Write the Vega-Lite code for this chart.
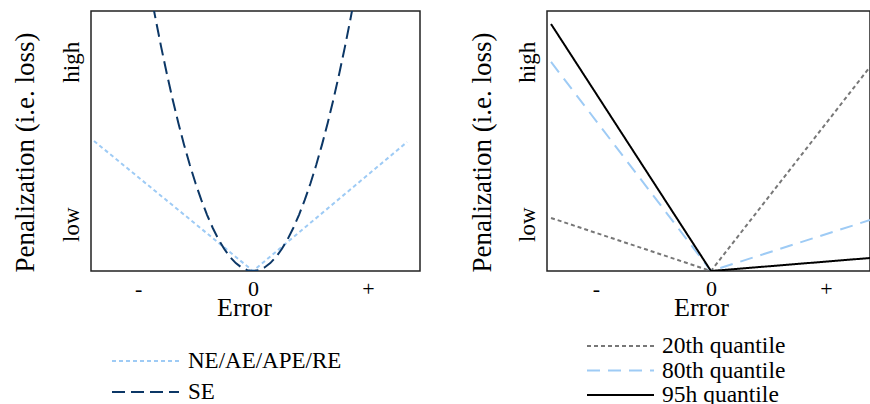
{
  "$schema": "https://vega.github.io/schema/vega-lite/v6.json",
  "padding": {"left": 10, "top": 10, "right": 0, "bottom": 0},
  "background": "white",
  "spacing": 46,
  "config": {
    "view": {"stroke": "#222222", "strokeWidth": 1.5},
    "font": "Liberation Serif",
    "axis": {"grid": false, "domain": false, "ticks": false, "tickSize": 0, "labelFont": "Liberation Serif", "titleFont": "Liberation Serif", "labelColor": "#000000", "titleColor": "#000000", "titleFontWeight": "normal", "labelFlush": false, "labelOverlap": false},
    "legend": {"labelFont": "Liberation Serif", "labelColor": "#000000", "padding": 0, "symbolType": "stroke", "symbolStrokeWidth": 2, "symbolSize": 4489, "clipHeight": 24, "title": null}
  },
  "datasets": {
    "left": [
      {"series": "NE/AE/APE/RE", "error": -1.383, "loss": 5.0},
      {"series": "NE/AE/APE/RE", "error": 0, "loss": 0},
      {"series": "NE/AE/APE/RE", "error": 1.339, "loss": 4.96},
      {"series": "SE", "error": -0.9, "loss": 10.935},
      {"series": "SE", "error": -0.85, "loss": 9.754},
      {"series": "SE", "error": -0.8, "loss": 8.64},
      {"series": "SE", "error": -0.75, "loss": 7.594},
      {"series": "SE", "error": -0.7, "loss": 6.615},
      {"series": "SE", "error": -0.65, "loss": 5.704},
      {"series": "SE", "error": -0.6, "loss": 4.86},
      {"series": "SE", "error": -0.55, "loss": 4.084},
      {"series": "SE", "error": -0.5, "loss": 3.375},
      {"series": "SE", "error": -0.45, "loss": 2.734},
      {"series": "SE", "error": -0.4, "loss": 2.16},
      {"series": "SE", "error": -0.35, "loss": 1.654},
      {"series": "SE", "error": -0.3, "loss": 1.215},
      {"series": "SE", "error": -0.25, "loss": 0.844},
      {"series": "SE", "error": -0.2, "loss": 0.54},
      {"series": "SE", "error": -0.15, "loss": 0.304},
      {"series": "SE", "error": -0.1, "loss": 0.135},
      {"series": "SE", "error": -0.05, "loss": 0.034},
      {"series": "SE", "error": 0, "loss": 0},
      {"series": "SE", "error": 0.05, "loss": 0.034},
      {"series": "SE", "error": 0.1, "loss": 0.135},
      {"series": "SE", "error": 0.15, "loss": 0.304},
      {"series": "SE", "error": 0.2, "loss": 0.54},
      {"series": "SE", "error": 0.25, "loss": 0.844},
      {"series": "SE", "error": 0.3, "loss": 1.215},
      {"series": "SE", "error": 0.35, "loss": 1.654},
      {"series": "SE", "error": 0.4, "loss": 2.16},
      {"series": "SE", "error": 0.45, "loss": 2.734},
      {"series": "SE", "error": 0.5, "loss": 3.375},
      {"series": "SE", "error": 0.55, "loss": 4.084},
      {"series": "SE", "error": 0.6, "loss": 4.86},
      {"series": "SE", "error": 0.65, "loss": 5.704},
      {"series": "SE", "error": 0.7, "loss": 6.615},
      {"series": "SE", "error": 0.75, "loss": 7.594},
      {"series": "SE", "error": 0.8, "loss": 8.64},
      {"series": "SE", "error": 0.85, "loss": 9.754},
      {"series": "SE", "error": 0.9, "loss": 10.935}
    ],
    "right": [
      {"quantile": "20th quantile", "error": -1.391, "loss": 2.04},
      {"quantile": "20th quantile", "error": 0, "loss": 0},
      {"quantile": "20th quantile", "error": 1.383, "loss": 7.85},
      {"quantile": "80th quantile", "error": -1.391, "loss": 8.04},
      {"quantile": "80th quantile", "error": 0, "loss": 0},
      {"quantile": "80th quantile", "error": 1.383, "loss": 1.96},
      {"quantile": "95h quantile", "error": -1.391, "loss": 9.5},
      {"quantile": "95h quantile", "error": 0, "loss": 0},
      {"quantile": "95h quantile", "error": 1.383, "loss": 0.5}
    ]
  },
  "hconcat": [
    {
      "width": 329,
      "height": 260,
      "data": {"name": "left"},
      "mark": {"type": "line", "strokeWidth": 2, "clip": true},
      "encoding": {
        "x": {"field": "error", "type": "quantitative",
          "scale": {"domain": [-1.409, 1.452], "nice": false, "zero": false},
          "axis": {"values": [-1, 0, 1], "labelExpr": "datum.value < -0.5 ? '-' : (datum.value > 0.5 ? '+' : '0')", "labelFontSize": 22, "labelPadding": 7,
            "title": "Error", "titleFontSize": 26, "titleX": 153, "titleY": 23.5, "titleBaseline": "top", "titleAlign": "center"}},
        "y": {"field": "loss", "type": "quantitative",
          "scale": {"domain": [0, 10], "nice": false},
          "axis": {"values": [1.8, 8.05], "labelExpr": "datum.value < 5 ? 'low' : 'high'", "labelAngle": 270, "labelAlign": "center", "labelBaseline": "alphabetic", "labelPadding": 12.5, "labelFontSize": 23,
            "title": "Penalization (i.e. loss)", "titleFontSize": 27, "titleAngle": 270, "titleX": -58, "titleY": 141, "titleAlign": "center", "titleBaseline": "alphabetic"}},
        "color": {"field": "series", "type": "nominal",
          "scale": {"domain": ["NE/AE/APE/RE", "SE"], "range": ["#9ecbf5", "#0c3766"]},
          "legend": {"orient": "none", "legendX": 20, "legendY": 338, "rowPadding": 7, "labelFontSize": 23, "labelOffset": 8}},
        "strokeDash": {"field": "series", "type": "nominal",
          "scale": {"domain": ["NE/AE/APE/RE", "SE"], "range": [[4, 3], [13, 6]]},
          "legend": {"orient": "none", "legendX": 20, "legendY": 338, "rowPadding": 7, "labelFontSize": 23, "labelOffset": 8}}
      }
    },
    {
      "width": 323,
      "height": 260,
      "data": {"name": "right"},
      "mark": {"type": "line", "strokeWidth": 2, "clip": true},
      "encoding": {
        "x": {"field": "error", "type": "quantitative",
          "scale": {"domain": [-1.426, 1.383], "nice": false, "zero": false},
          "axis": {"values": [-1, 0, 1], "labelExpr": "datum.value < -0.5 ? '-' : (datum.value > 0.5 ? '+' : '0')", "labelFontSize": 22, "labelPadding": 7,
            "title": "Error", "titleFontSize": 26, "titleX": 154, "titleY": 23.5, "titleBaseline": "top", "titleAlign": "center"}},
        "y": {"field": "loss", "type": "quantitative",
          "scale": {"domain": [0, 10], "nice": false},
          "axis": {"values": [1.8, 8.05], "labelExpr": "datum.value < 5 ? 'low' : 'high'", "labelAngle": 270, "labelAlign": "center", "labelBaseline": "alphabetic", "labelPadding": 12.5, "labelFontSize": 23,
            "title": "Penalization (i.e. loss)", "titleFontSize": 27, "titleAngle": 270, "titleX": -57, "titleY": 141, "titleAlign": "center", "titleBaseline": "alphabetic"}},
        "color": {"field": "quantile", "type": "nominal",
          "scale": {"domain": ["20th quantile", "80th quantile", "95h quantile"], "range": ["#777777", "#9ecbf5", "#000000"]},
          "legend": {"orient": "none", "legendX": 39, "legendY": 323, "rowPadding": 0.5, "labelFontSize": 23.5, "labelOffset": 7}},
        "strokeDash": {"field": "quantile", "type": "nominal",
          "scale": {"domain": ["20th quantile", "80th quantile", "95h quantile"], "range": [[4, 3], [13, 8], [1, 0]]},
          "legend": {"orient": "none", "legendX": 39, "legendY": 323, "rowPadding": 0.5, "labelFontSize": 23.5, "labelOffset": 7}}
      }
    }
  ],
  "resolve": {"scale": {"color": "independent", "strokeDash": "independent", "x": "independent", "y": "independent"}, "legend": {"color": "independent", "strokeDash": "independent"}}
}
